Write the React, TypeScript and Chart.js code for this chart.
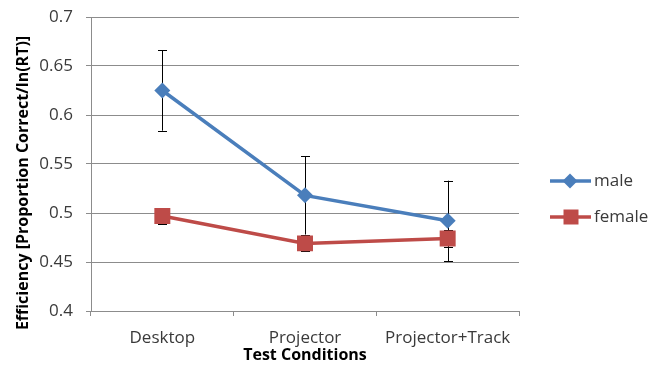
import React, { useEffect, useRef } from "react";
import { Chart, registerables } from "chart.js";

Chart.register(...registerables);

const categories = ["Desktop", "Projector", "Projector+Track"];
const maleValues = [0.625, 0.518, 0.492];
const maleErrors = [0.041, 0.04, 0.041];
const femaleValues = [0.497, 0.469, 0.474];
const femaleErrors = [0.0078, 0.0078, 0.0085];
const yTicks = [0.4, 0.45, 0.5, 0.55, 0.6, 0.65, 0.7];

const BLUE = "#4A7EBB";
const RED = "#BE4B48";
const TEXT = "#3a3a3a";
const GRID = "#8c8c8c";
const FONT = "'Open Sans', 'Liberation Sans', sans-serif";

const errorBarPlugin = {
  id: "errorBars",
  beforeDatasetsDraw(chart: any) {
    const { ctx, scales } = chart;
    const xs = scales.x;
    const ys = scales.y;
    chart.data.datasets.forEach((ds: any) => {
      const errs: number[] = ds.errors || [];
      ds.data.forEach((v: number, i: number) => {
        const e = errs[i];
        if (e == null) return;
        const x = Math.round(xs.getPixelForValue(i)) + 0.5;
        const yT = ys.getPixelForValue(v + e);
        const yB = ys.getPixelForValue(v - e);
        ctx.save();
        ctx.strokeStyle = "#000";
        ctx.lineWidth = 1;
        ctx.beginPath();
        ctx.moveTo(x, yT);
        ctx.lineTo(x, yB);
        ctx.moveTo(x - 4.5, Math.round(yT) + 0.5);
        ctx.lineTo(x + 4.5, Math.round(yT) + 0.5);
        ctx.moveTo(x - 4.5, Math.round(yB) + 0.5);
        ctx.lineTo(x + 4.5, Math.round(yB) + 0.5);
        ctx.stroke();
        ctx.restore();
      });
    });
  },
};

const decorPlugin = {
  id: "decor",
  afterDraw(chart: any) {
    const { ctx } = chart;
    ctx.save();
    // axis titles
    ctx.fillStyle = "#000";
    ctx.font = `bold 16px ${FONT}`;
    ctx.textAlign = "center";
    ctx.textBaseline = "middle";
    ctx.fillText("Test Conditions", 305, 355);
    ctx.save();
    ctx.translate(23, 183);
    ctx.rotate(-Math.PI / 2);
    ctx.fillText("Efficiency [Proportion Correct/ln(RT)]", 0, 0);
    ctx.restore();

    // legend
    const items = [
      { label: chart.data.datasets[0].label, color: BLUE, style: "diamond", y: 181 },
      { label: chart.data.datasets[1].label, color: RED, style: "square", y: 217 },
    ];
    items.forEach((it) => {
      ctx.strokeStyle = it.color;
      ctx.lineWidth = 3.5;
      ctx.beginPath();
      ctx.moveTo(550, it.y);
      ctx.lineTo(591, it.y);
      ctx.stroke();
      ctx.fillStyle = it.color;
      ctx.beginPath();
      if (it.style === "diamond") {
        const cx = 570, r = 7.5;
        ctx.moveTo(cx - r, it.y);
        ctx.lineTo(cx, it.y - r);
        ctx.lineTo(cx + r, it.y);
        ctx.lineTo(cx, it.y + r);
        ctx.closePath();
      } else {
        const cx = 571, s = 7.5;
        ctx.rect(cx - s, it.y - s, 2 * s, 2 * s);
      }
      ctx.fill();
      ctx.fillStyle = TEXT;
      ctx.font = `17px ${FONT}`;
      ctx.textAlign = "left";
      ctx.textBaseline = "middle";
      ctx.fillText(it.label, 594, it.y);
    });
    ctx.restore();
  },
};

export default function App() {
  const ref = useRef<HTMLCanvasElement | null>(null);

  useEffect(() => {
    document.body.style.margin = "0";
    const canvas = ref.current;
    if (!canvas) return;
    const chart = new Chart(canvas, {
      type: "line",
      data: {
        labels: categories,
        datasets: [
          {
            label: "male",
            data: maleValues,
            errors: maleErrors,
            borderColor: BLUE,
            backgroundColor: BLUE,
            borderWidth: 3.5,
            pointStyle: "rectRot",
            pointRadius: 8,
            pointBorderWidth: 0,
            pointBackgroundColor: BLUE,
            tension: 0,
          } as any,
          {
            label: "female",
            data: femaleValues,
            errors: femaleErrors,
            borderColor: RED,
            backgroundColor: RED,
            borderWidth: 3.5,
            pointStyle: "rect",
            pointRadius: 11.3,
            pointBorderWidth: 0,
            pointBackgroundColor: RED,
            tension: 0,
          } as any,
        ],
      },
      options: {
        responsive: false,
        animation: false,
        layout: { padding: { left: 0, right: 131, top: 17, bottom: 0 } },
        plugins: {
          legend: { display: false },
          tooltip: { enabled: false },
          title: { display: false },
        },
        scales: {
          x: {
            type: "category",
            offset: true,
            grid: {
              offset: true,
              drawOnChartArea: false,
              drawTicks: true,
              tickLength: 5,
              color: GRID,
            },
            border: { display: true, color: GRID, width: 1 },
            ticks: {
              color: TEXT,
              font: { family: FONT, size: 17 },
              padding: 12,
              maxRotation: 0,
              autoSkip: false,
            },
            afterFit(scale: any) {
              scale.height = 64;
            },
          },
          y: {
            type: "linear",
            min: 0.4,
            max: 0.7,
            afterBuildTicks(scale: any) {
              scale.ticks = yTicks.map((v) => ({ value: v }));
            },
            grid: {
              color: GRID,
              lineWidth: 1,
              drawTicks: true,
              tickLength: 5,
            },
            border: { display: true, color: GRID, width: 1 },
            ticks: {
              color: TEXT,
              font: { family: FONT, size: 17 },
              padding: 13,
              crossAlign: "near",
              callback: (v: any) => String(Number(v)),
            },
            afterFit(scale: any) {
              scale.width = 91;
              scale.paddingTop = 0;
              scale.paddingBottom = 0;
            },
          },
        },
      } as any,
      plugins: [errorBarPlugin, decorPlugin],
    });
    return () => chart.destroy();
  }, []);

  return (
    <div style={{ width: 650, height: 375 }}>
      <canvas ref={ref} width={650} height={375} style={{ display: "block" }} />
    </div>
  );
}
